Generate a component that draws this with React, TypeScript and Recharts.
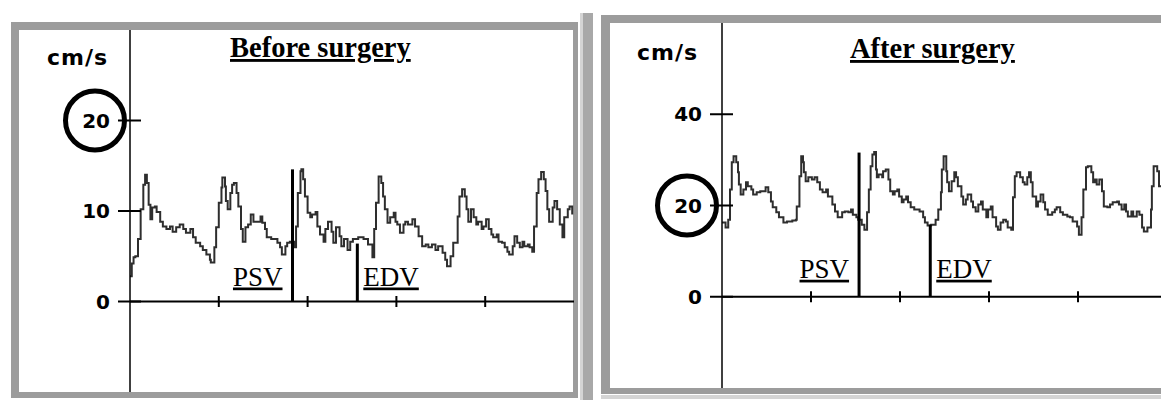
import { LineChart, Line, XAxis, YAxis, ReferenceLine } from 'recharts'

// Doppler velocity traces, [time, cm/s]
const beforeTrace: [number, number][] = [
  [0.0, 2.8], [0.02, 4.2], [0.04, 4.9], [0.06, 5.0], [0.09, 6.9], [0.12, 10.2], [0.15, 12.9], [0.17, 14.0],
  [0.19, 13.1], [0.21, 10.7], [0.23, 9.1], [0.25, 10.4], [0.28, 10.5], [0.3, 9.9], [0.34, 8.8], [0.37, 8.3],
  [0.41, 8.0], [0.45, 8.3], [0.48, 7.7], [0.52, 8.2], [0.56, 8.5], [0.6, 8.0], [0.63, 7.6], [0.68, 8.0],
  [0.71, 7.1], [0.74, 6.5], [0.79, 6.1], [0.82, 5.7], [0.86, 5.2], [0.9, 4.6], [0.91, 4.3], [0.95, 6.0],
  [0.97, 8.2], [1.0, 10.9], [1.03, 12.6], [1.04, 13.7], [1.07, 12.7], [1.08, 11.1], [1.1, 10.2], [1.13, 12.0],
  [1.15, 12.9], [1.17, 13.1], [1.2, 12.0], [1.22, 10.5], [1.25, 8.0], [1.27, 6.6], [1.3, 8.2], [1.33, 8.5],
  [1.36, 9.6], [1.39, 8.8], [1.42, 8.8], [1.47, 9.4], [1.49, 8.7], [1.52, 8.0], [1.54, 7.1], [1.59, 6.9],
  [1.62, 6.9], [1.66, 6.5], [1.69, 6.0], [1.71, 5.2], [1.75, 6.1], [1.77, 6.5], [1.8, 6.6], [1.85, 6.0],
  [1.87, 8.3], [1.89, 12.0], [1.92, 14.4], [1.93, 14.6], [1.95, 13.5], [1.97, 11.6], [2.0, 9.8], [2.03, 9.3],
  [2.05, 9.6], [2.09, 9.9], [2.11, 8.3], [2.14, 7.4], [2.18, 6.6], [2.2, 8.0], [2.23, 8.8], [2.27, 7.7],
  [2.29, 6.5], [2.32, 8.2], [2.36, 7.2], [2.38, 6.1], [2.41, 6.9], [2.45, 5.7], [2.48, 6.6], [2.51, 6.9],
  [2.57, 7.1], [2.63, 6.9], [2.68, 6.3], [2.73, 4.9], [2.75, 8.0], [2.77, 10.9], [2.8, 13.8], [2.83, 13.1],
  [2.85, 11.6], [2.87, 10.2], [2.9, 8.7], [2.93, 9.3], [2.97, 9.8], [2.99, 8.8], [3.01, 8.5], [3.04, 7.6],
  [3.08, 8.5], [3.1, 8.8], [3.13, 8.5], [3.18, 9.1], [3.21, 8.3], [3.25, 7.2], [3.29, 6.1], [3.33, 6.3],
  [3.36, 6.0], [3.4, 6.3], [3.44, 5.7], [3.47, 6.1], [3.52, 5.4], [3.55, 4.6], [3.57, 3.9], [3.61, 5.0],
  [3.64, 6.5], [3.69, 9.4], [3.71, 11.6], [3.74, 12.4], [3.77, 11.6], [3.79, 10.2], [3.81, 8.8], [3.84, 10.2],
  [3.87, 9.3], [3.9, 8.5], [3.92, 8.8], [3.96, 8.0], [3.98, 8.3], [4.01, 9.1], [4.04, 8.0], [4.07, 7.4],
  [4.09, 7.1], [4.13, 7.4], [4.15, 6.6], [4.19, 6.5], [4.22, 6.0], [4.25, 5.5], [4.27, 5.2], [4.31, 6.1],
  [4.33, 7.2], [4.36, 6.5], [4.39, 6.0], [4.42, 6.6], [4.44, 6.1], [4.48, 6.3], [4.5, 6.0], [4.53, 5.5],
  [4.55, 8.3], [4.58, 12.0], [4.6, 13.5], [4.63, 14.3], [4.66, 13.5], [4.68, 12.2], [4.7, 10.2], [4.72, 8.8],
  [4.76, 10.4], [4.78, 11.1], [4.81, 10.2], [4.84, 8.5], [4.87, 7.1], [4.89, 9.3], [4.93, 10.2], [4.95, 10.5],
  [4.98, 9.6],
]

const afterTrace: [number, number][] = [
  [0.0, 16.3], [0.04, 15.2], [0.07, 16.9], [0.09, 23.5], [0.11, 29.5], [0.13, 30.8], [0.16, 29.5], [0.18, 27.3],
  [0.19, 24.6], [0.21, 22.4], [0.24, 23.5], [0.27, 25.1], [0.29, 24.2], [0.33, 23.5], [0.35, 22.4], [0.39, 22.9],
  [0.43, 23.1], [0.46, 23.1], [0.49, 24.0], [0.52, 22.9], [0.55, 20.9], [0.57, 19.6], [0.61, 18.5], [0.64, 17.4],
  [0.69, 16.3], [0.73, 16.5], [0.79, 16.7], [0.83, 16.9], [0.84, 19.8], [0.87, 26.4], [0.89, 30.8], [0.91, 29.5],
  [0.92, 27.3], [0.94, 25.3], [0.97, 26.2], [1.01, 25.7], [1.04, 26.2], [1.07, 25.1], [1.1, 23.5], [1.13, 22.9],
  [1.17, 23.5], [1.19, 22.0], [1.24, 20.2], [1.27, 18.7], [1.3, 17.4], [1.35, 18.5], [1.38, 18.7], [1.42, 18.5],
  [1.45, 19.1], [1.47, 18.0], [1.51, 17.4], [1.53, 16.9], [1.57, 15.8], [1.6, 14.7], [1.63, 18.5], [1.65, 23.5],
  [1.67, 28.6], [1.69, 31.2], [1.71, 31.7], [1.73, 27.9], [1.74, 26.2], [1.76, 26.8], [1.8, 26.2], [1.81, 27.5],
  [1.84, 27.9], [1.87, 25.7], [1.89, 23.1], [1.92, 22.4], [1.94, 23.1], [1.97, 23.5], [1.99, 22.0], [2.02, 20.7],
  [2.04, 21.3], [2.07, 22.0], [2.09, 20.7], [2.12, 19.6], [2.16, 19.1], [2.19, 19.1], [2.22, 18.7], [2.26, 17.4],
  [2.28, 16.3], [2.31, 15.6], [2.35, 15.8], [2.37, 15.8], [2.4, 16.9], [2.43, 19.1], [2.46, 22.9], [2.47, 27.9],
  [2.49, 30.8], [2.52, 27.5], [2.53, 25.1], [2.55, 23.1], [2.58, 25.3], [2.61, 27.3], [2.63, 26.2], [2.65, 24.2],
  [2.69, 22.0], [2.71, 20.2], [2.74, 21.3], [2.76, 22.4], [2.8, 20.9], [2.82, 19.6], [2.85, 18.7], [2.88, 20.2],
  [2.91, 20.9], [2.93, 19.1], [2.97, 17.4], [2.99, 19.1], [3.02, 19.8], [3.04, 17.4], [3.08, 15.4], [3.1, 14.7],
  [3.13, 16.3], [3.16, 16.9], [3.19, 16.5], [3.21, 15.2], [3.25, 14.7], [3.27, 21.8], [3.29, 26.4], [3.31, 27.3],
  [3.35, 26.2], [3.38, 25.1], [3.4, 24.6], [3.43, 26.2], [3.45, 27.3], [3.47, 25.1], [3.49, 22.0], [3.53, 19.8],
  [3.55, 20.9], [3.58, 22.4], [3.61, 20.7], [3.63, 19.1], [3.66, 18.0], [3.71, 18.5], [3.74, 19.1], [3.76, 19.6],
  [3.8, 18.5], [3.83, 18.0], [3.88, 17.6], [3.91, 17.4], [3.94, 16.5], [3.99, 15.4], [4.01, 13.6], [4.04, 17.4],
  [4.06, 23.5], [4.09, 28.4], [4.11, 28.6], [4.15, 27.3], [4.17, 25.1], [4.19, 25.7], [4.21, 24.6], [4.24, 25.7],
  [4.27, 23.1], [4.29, 19.8], [4.33, 19.6], [4.36, 20.2], [4.39, 20.7], [4.44, 20.9], [4.46, 20.2], [4.49, 19.1],
  [4.52, 20.2], [4.54, 18.7], [4.56, 17.6], [4.6, 18.7], [4.62, 17.6], [4.66, 18.7], [4.69, 18.0], [4.72, 15.2],
  [4.74, 14.3], [4.78, 15.2], [4.8, 15.2], [4.82, 19.1], [4.83, 24.2], [4.85, 28.6], [4.89, 27.5], [4.91, 24.2],
  [4.95, 23.5], [5.0, 22.0],
]

const beforeTicks = [0, 10, 20]
const afterTicks = [0, 20, 40]
const timeTicks = [1, 2, 3, 4]

// PSV / EDV calipers: time and the velocity they reach
const beforeMarkers = [
  { name: 'PSV', t: 1.83, v: 14.6 },
  { name: 'EDV', t: 2.56, v: 6.4 },
]
const afterMarkers = [
  { name: 'PSV', t: 1.54, v: 31.6 },
  { name: 'EDV', t: 2.34, v: 15.8 },
]

const GRAY = '#9c9c9c'
const TRACE = '#2e2e2e'

function VelocityTick(props: any) {
  const { x, y, payload, circled } = props
  const v = payload.value
  return (
    <g>
      <line x1={x - 12} x2={x + 11} y1={y} y2={y} stroke="#000" strokeWidth={2} />
      <text
        x={x - 20}
        y={y + 7}
        textAnchor="end"
        fontFamily="DejaVu Sans"
        fontWeight="bold"
        fontSize={20}
        fill="#000"
      >
        {v}
      </text>
      {v === circled && (
        <circle cx={x - 35} cy={y} r={29.5} fill="none" stroke="#000" strokeWidth={5} />
      )}
    </g>
  )
}

function Caliper(props: any) {
  const { x1, y1, y2, name, lift } = props
  const bottom = Math.max(y1, y2)
  const top = Math.min(y1, y2)
  const onLeft = name === 'PSV'
  return (
    <g>
      <line x1={x1} x2={x1} y1={bottom} y2={top} stroke="#000" strokeWidth={3} />
      <text
        x={onLeft ? x1 - 10 : x1 + 6}
        y={bottom - lift}
        textAnchor={onLeft ? 'end' : 'start'}
        fontFamily="Liberation Serif"
        fontSize={27}
        textDecoration="underline"
        fill="#000"
      >
        {name}
      </text>
    </g>
  )
}

interface PanelProps {
  left: number
  top: number
  axisWidth: number
  plotWidth: number
  height: number
  domain: [number, number]
  ticks: number[]
  trace: [number, number][]
  markers: { name: string; t: number; v: number }[]
  lift: number
}

function Panel({ left, top, axisWidth, plotWidth, height, domain, ticks, trace, markers, lift }: PanelProps) {
  const data = trace.map(([t, v]) => ({ t, v }))
  const pxPerUnit = height / (domain[1] - domain[0])
  const half = 5.5 / pxPerUnit
  return (
    <div style={{ position: 'absolute', left, top }}>
      <LineChart
        width={axisWidth + plotWidth}
        height={height}
        data={data}
        margin={{ top: 0, right: 0, bottom: 0, left: 0 }}
      >
        <XAxis type="number" dataKey="t" domain={[0, 5]} hide />
        <YAxis
          type="number"
          domain={domain}
          ticks={ticks}
          interval={0}
          width={axisWidth}
          axisLine={{ stroke: '#000', strokeWidth: 1.5 }}
          tickLine={false}
          tickSize={0}
          tickMargin={0}
          tick={(p: any) => <VelocityTick {...p} circled={20} />}
        />
        <ReferenceLine y={0} stroke="#000" strokeWidth={2} />
        {timeTicks.map((t) => (
          <ReferenceLine
            key={t}
            segment={[{ x: t, y: -half }, { x: t, y: half }]}
            stroke="#000"
            strokeWidth={2}
          />
        ))}
        <Line
          type="stepAfter"
          dataKey="v"
          stroke={TRACE}
          strokeWidth={2}
          dot={false}
          isAnimationActive={false}
        />
        {markers.map((m) => (
          <ReferenceLine
            key={m.name}
            segment={[{ x: m.t, y: 0 }, { x: m.t, y: m.v }]}
            shape={(p: any) => <Caliper {...p} name={m.name} lift={lift} />}
          />
        ))}
      </LineChart>
    </div>
  )
}

export default function App() {
  const unitStyle = { fontFamily: 'DejaVu Sans', fontWeight: 'bold' as const, fontSize: 22, letterSpacing: 1 }
  const titleStyle = { fontFamily: 'Liberation Serif', fontWeight: 'bold' as const, fontSize: 28.5 }
  return (
    <div
      style={{
        position: 'absolute',
        left: 0,
        top: 0,
        width: 1161,
        height: 400,
        overflow: 'hidden',
        background: '#fff',
      }}
    >
      {/* frames */}
      <div
        style={{
          position: 'absolute',
          left: 11,
          top: 22,
          width: 567,
          height: 376,
          boxSizing: 'border-box',
          borderStyle: 'solid',
          borderColor: GRAY,
          borderWidth: '8px 5px 6px 8px',
        }}
      />
      <div style={{ position: 'absolute', left: 580, top: 13, width: 3, height: 387, background: '#d4d4d4' }} />
      <div style={{ position: 'absolute', left: 583, top: 13, width: 10, height: 387, background: '#a8a8a8' }} />
      <div
        style={{
          position: 'absolute',
          left: 601,
          top: 15,
          width: 580,
          height: 379,
          boxSizing: 'border-box',
          borderStyle: 'solid',
          borderColor: GRAY,
          borderWidth: '8px 0 6px 9px',
        }}
      />
      <div style={{ position: 'absolute', left: 601, top: 395, width: 580, height: 4, background: '#d4d4d4' }} />

      <Panel
        left={20}
        top={30}
        axisWidth={110}
        plotWidth={444}
        height={362}
        domain={[-10, 30]}
        ticks={beforeTicks}
        trace={beforeTrace}
        markers={beforeMarkers}
        lift={16}
      />
      <Panel
        left={610}
        top={23}
        axisWidth={112}
        plotWidth={445}
        height={365}
        domain={[-20, 60]}
        ticks={afterTicks}
        trace={afterTrace}
        markers={afterMarkers}
        lift={19}
      />

      <svg
        width={1161}
        height={400}
        style={{ position: 'absolute', left: 0, top: 0, pointerEvents: 'none' }}
      >
        <text x={47} y={65} fill="#000" style={unitStyle}>cm/s</text>
        <text x={637} y={60} fill="#000" style={unitStyle}>cm/s</text>
        <text x={230} y={57} fill="#000" textDecoration="underline" style={titleStyle}>Before surgery</text>
        <text x={850} y={58} fill="#000" textDecoration="underline" style={titleStyle}>After surgery</text>
      </svg>
    </div>
  )
}
